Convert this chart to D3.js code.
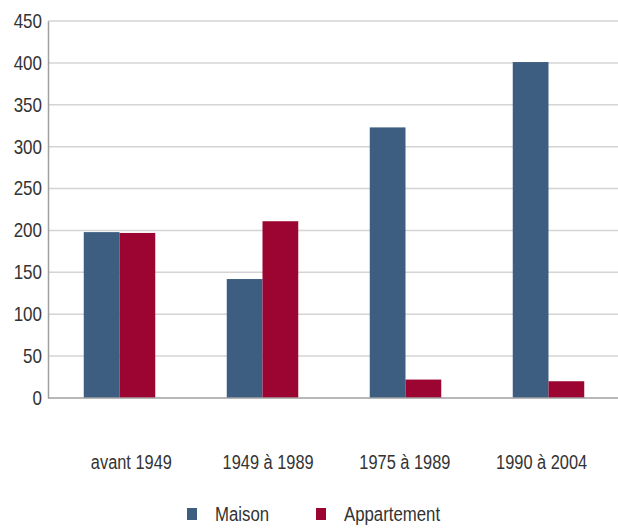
<!doctype html>
<html lang="fr">
<head>
    <meta charset="utf-8">
    <title>Maison / Appartement</title>
    <style>
        body { margin: 0; background: #fff; }
        text { font-family: "Liberation Sans", Arial, sans-serif; fill: #333; }
    </style>
</head>
<body>
    <div id="chart"></div>

    <script src="https://d3js.org/d3.v7.min.js"></script>
    <script>
        var periodes = ["avant 1949", "1949 à 1989", "1975 à 1989", "1990 à 2004"]
        var series = ["Maison", "Appartement"]
        var maison = [198, 142, 323, 401]
        var appartement = [197, 211, 22, 20]
        var yTicks = [0, 50, 100, 150, 200, 250, 300, 350, 400, 450]
        var couleurs = ["#3d5e81", "#9c0532"]

        var width = 618
        var height = 532
        var narrow = 0.8 // the labels are set in a condensed face

        var svg = d3.select("#chart")
            .append("svg")
            .attr("width", width)
            .attr("height", height)

        var x0 = d3.scaleBand()
            .domain(periodes)
            .range([48, 620])
            .paddingInner(0.5)
            .paddingOuter(0.25)

        var x1 = d3.scaleBand()
            .domain(series)
            .range([0, x0.bandwidth()])

        // category labels sit on their own, slightly tighter spacing
        var xLabels = d3.scaleBand()
            .domain(periodes)
            .range([63, 610])

        var y = d3.scaleLinear()
            .domain([0, 450])
            .range([398, 21])

        var color = d3.scaleOrdinal()
            .domain(series)
            .range(couleurs)

        // grid
        svg.append("g")
            .selectAll("line")
            .data(yTicks.slice(1))
            .enter()
            .append("line")
            .attr("x1", 48)
            .attr("x2", width)
            .attr("y1", function(d) { return y(d) })
            .attr("y2", function(d) { return y(d) })
            .attr("stroke", "#d4d4d4")
            .attr("stroke-width", 1.5)

        var yAxis = svg.append("g")
            .attr("transform", "translate(48,0)")
            .call(d3.axisLeft(y).tickValues(yTicks).tickSize(0).tickPadding(0))
        yAxis.select(".domain").attr("stroke", "#a0a0a0").attr("stroke-width", 1.5)
        yAxis.selectAll("text")
            .attr("x", -6 / 0.85)
            .attr("transform", "scale(0.85,1)")
            .style("font-size", "20px")
            .attr("fill", "#333")

        var rows = periodes.map(function(p, i) {
            return { periode: p, valeurs: [maison[i], appartement[i]] }
        })

        svg.append("g")
            .selectAll("g")
            .data(rows)
            .enter()
            .append("g")
            .attr("transform", function(d) { return "translate(" + x0(d.periode) + ",0)" })
            .selectAll("rect")
            .data(function(d) {
                return series.map(function(s, j) { return { key: s, value: d.valeurs[j] } })
            })
            .enter()
            .append("rect")
            .attr("x", function(d) { return x1(d.key) })
            .attr("width", x1.bandwidth())
            .attr("y", function(d) { return y(d.value) })
            .attr("height", function(d) { return y(0) - y(d.value) })
            .attr("fill", function(d) { return color(d.key) })

        // baseline
        svg.append("line")
            .attr("x1", 48)
            .attr("x2", width)
            .attr("y1", y(0))
            .attr("y2", y(0))
            .attr("stroke", "#a0a0a0")
            .attr("stroke-width", 1.5)

        var xAxis = svg.append("g")
            .attr("transform", "translate(0,462)")
            .call(d3.axisBottom(xLabels).tickSize(0).tickPadding(0))
        xAxis.select(".domain").remove()
        xAxis.selectAll("text")
            .attr("dy", "0.35em")
            .attr("transform", "scale(0.78,1)")
            .style("font-size", "21px")
            .attr("fill", "#333")

        // legend
        var legendX = [187, 316]
        var legend = svg.append("g")
            .selectAll("g")
            .data(series)
            .enter()
            .append("g")
            .attr("transform", function(d, i) { return "translate(" + legendX[i] + ",508)" })
        legend.append("rect")
            .attr("width", 10)
            .attr("height", 12)
            .attr("fill", function(d) { return color(d) })
        legend.append("text")
            .attr("x", 28 / narrow)
            .attr("y", 6)
            .attr("dy", "0.35em")
            .attr("transform", "scale(" + narrow + ",1)")
            .style("font-size", "21px")
            .text(function(d) { return d })
    </script>
</body>
</html>
